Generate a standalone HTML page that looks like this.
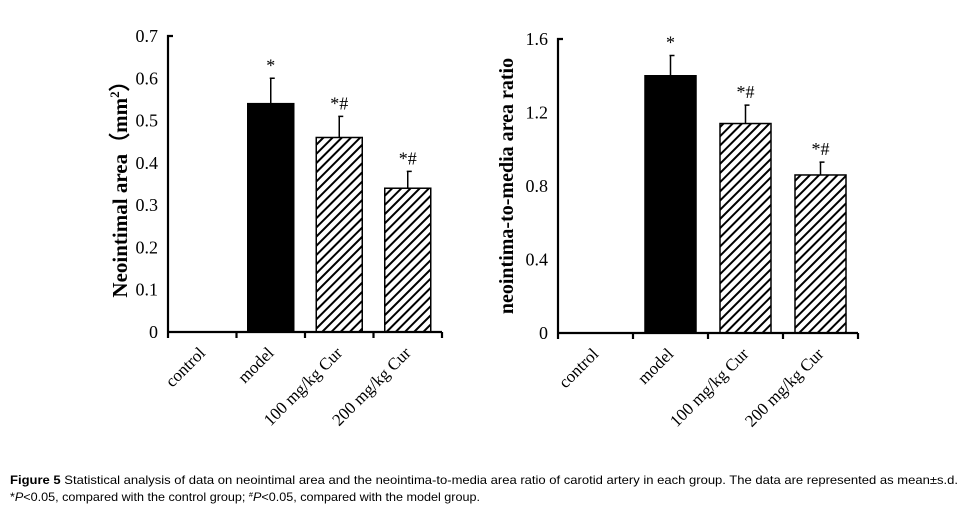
<!DOCTYPE html>
<html><head><meta charset="utf-8"><style>
html,body{margin:0;padding:0;background:#fff;}
svg{display:block;}
</style></head><body>
<svg id="fig" width="967" height="515" viewBox="0 0 967 515" xmlns="http://www.w3.org/2000/svg">
<defs>
<pattern id="hatch" patternUnits="userSpaceOnUse" width="6.5" height="6.5" patternTransform="rotate(45)">
<rect width="6.5" height="6.5" fill="#fff"/><rect x="0" y="0" width="2" height="6.5" fill="#000"/>
</pattern>
</defs>
<g id="c1"></g>
<g id="c2"></g>
<text x="10" y="484" font-family="Liberation Sans Narrow, Liberation Sans, sans-serif" font-size="12" textLength="948" lengthAdjust="spacingAndGlyphs"><tspan font-weight="bold">Figure 5</tspan> Statistical analysis of data on neointimal area and the neointima-to-media area ratio of carotid artery in each group. The data are represented as mean±s.d.</text>
<text x="10" y="501" font-family="Liberation Sans Narrow, Liberation Sans, sans-serif" font-size="12" textLength="470" lengthAdjust="spacingAndGlyphs">*<tspan font-style="italic">P</tspan>&lt;0.05, compared with the control group; <tspan font-size="7" dy="-4">#</tspan><tspan dy="4" font-style="italic">P</tspan>&lt;0.05, compared with the model group.</text>
</svg>
<script>
const categories = ["control","model","100 mg/kg Cur","200 mg/kg Cur"];
const areaValues = [0, 0.54, 0.46, 0.34];
const areaErrors = [0, 0.06, 0.05, 0.04];
const areaMarks = ["", "*", "*#", "*#"];
const areaTicks = [0,0.1,0.2,0.3,0.4,0.5,0.6,0.7];
const ratioValues = [0, 1.40, 1.14, 0.86];
const ratioErrors = [0, 0.11, 0.10, 0.07];
const ratioMarks = ["", "*", "*#", "*#"];
const ratioTicks = [0,0.4,0.8,1.2,1.6];
const fills = ["#fff","#000","url(#hatch)","url(#hatch)"];
const NS="http://www.w3.org/2000/svg";
function mk(parent,tag,attrs,text){const e=document.createElementNS(NS,tag);for(const k in attrs)e.setAttribute(k,attrs[k]);if(text!==undefined)e.textContent=text;parent.appendChild(e);return e;}
function draw(g,cfg){
  const y=v=>cfg.y0-(v-0)/cfg.max*(cfg.y0-cfg.yTop);
  const cw=(cfg.x1-cfg.x0)/categories.length;
  const x=i=>cfg.x0+cw*(i+0.5);
  const ff="Liberation Serif, serif";
  cfg.values.forEach((v,i)=>{
    if(v<=0)return;
    const r=mk(g,'rect',{x:x(i)-cfg.bw/2,y:y(v),width:cfg.bw,height:cfg.y0-y(v),fill:fills[i],stroke:'#000','stroke-width':1.5});
    
    
    const e=cfg.errors[i];
    const eb=mk(g,'path',{d:`M${x(i)} ${y(v)}V${y(v+e)}M${x(i)-1} ${y(v+e)}H${x(i)+4}`,stroke:'#000','stroke-width':1.5,fill:'none'});
    
    
    const t=mk(g,'text',{x:x(i),y:y(v+e)-7,'text-anchor':'middle','font-family':ff,'font-size':18},cfg.marks[i]);
    
    
  });
  const ya=mk(g,'path',{d:`M${cfg.x0+5} ${cfg.yTop}H${cfg.x0}V${cfg.y0}`,stroke:'#000','stroke-width':2.2,fill:'none'});
  
  
  let d=`M${cfg.x0} ${cfg.y0}H${cfg.x1}`;
  for(let i=0;i<=categories.length;i++){const xx=cfg.x0+cw*i;d+=`M${xx} ${cfg.y0}V${cfg.y0+6}`;}
  const xa=mk(g,'path',{d:d,stroke:'#000','stroke-width':2.2,fill:'none'});
  
  
  cfg.ticks.forEach(t=>{
    const tl=mk(g,'text',{x:cfg.x0-10,y:y(t)+6,'text-anchor':'end','font-family':ff,'font-size':18},String(t));
    
    
  });
  categories.forEach((c,i)=>{
    const cx=x(i)+4, cy=cfg.y0+22;
    const tl=mk(g,'text',{x:cx,y:cy,'text-anchor':'end','font-family':ff,'font-size':17,transform:`rotate(-45 ${cx} ${cy})`},c);
    
    
  });
  const tt=mk(g,'text',{x:cfg.tx,y:(cfg.y0+cfg.yTop)/2,'text-anchor':'middle','font-family':ff,'font-size':cfg.tfs,'font-weight':'bold',transform:`rotate(-90 ${cfg.tx} ${(cfg.y0+cfg.yTop)/2})`});
  
  
  tt.innerHTML=cfg.title;
}
draw(document.getElementById('c1'),{x0:168,x1:442,y0:332,yTop:36,max:0.7,bw:46,values:areaValues,errors:areaErrors,marks:areaMarks,ticks:areaTicks,tx:127,tfs:21,title:'Neointimal area（mm<tspan font-size="13" dy="-8">2</tspan><tspan dy="8">）</tspan>'});
draw(document.getElementById('c2'),{x0:558,x1:858,y0:333,yTop:39,max:1.6,bw:51,values:ratioValues,errors:ratioErrors,marks:ratioMarks,ticks:ratioTicks,tx:513,tfs:20,title:'neointima-to-media area ratio'});
</script>
</body></html>
